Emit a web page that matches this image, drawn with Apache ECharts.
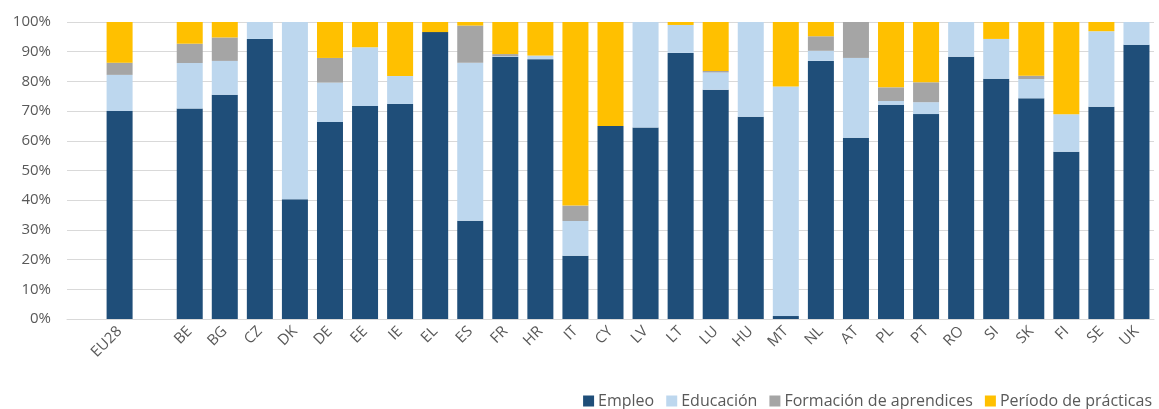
<!DOCTYPE html>
<html><head><meta charset="utf-8">
<script src="https://cdn.jsdelivr.net/npm/echarts@6/dist/echarts.min.js"></script>
<style>html,body{margin:0;padding:0;background:#fff}#c{width:1159px;height:409px}</style>
</head><body><div id="c"></div>
<script>
var categories = ['', 'EU28', ' ', 'BE','BG','CZ','DK','DE','EE','IE','EL','ES','FR','HR','IT','CY','LV','LT','LU','HU','MT','NL','AT','PL','PT','RO','SI','SK','FI','SE','UK'];
var empleo =     [null, 70.0, null, 70.9, 75.5, 94.3, 40.3, 66.3, 71.7, 72.4, 96.6, 33.1, 88.3, 87.5, 21.3, 65.0, 64.5, 89.6, 77.2, 68.1, 1.0, 86.9, 61.0, 72.1, 69.0, 88.3, 80.9, 74.3, 56.3, 71.5, 92.3];
var educacion =  [null, 12.2, null, 15.3, 11.4, 5.7, 59.7, 13.3, 19.8, 9.4, 0, 53.2, 0.2, 1.2, 11.7, 0, 35.5, 9.4, 5.8, 31.9, 77.3, 3.4, 26.9, 1.3, 4.0, 11.7, 13.4, 6.5, 12.6, 25.4, 7.7];
var formacion =  [null, 4.1, null, 6.5, 7.9, 0, 0, 8.3, 0, 0, 0, 12.5, 0.7, 0, 5.2, 0, 0, 0, 0.5, 0, 0, 4.9, 12.1, 4.6, 6.7, 0, 0, 1.1, 0, 0, 0];
var practicas =  [null, 13.7, null, 7.3, 5.2, 0, 0, 12.1, 8.5, 18.2, 3.4, 1.2, 10.8, 11.3, 61.8, 35.0, 0, 1.0, 16.5, 0, 21.7, 4.8, 0, 22.0, 20.3, 0, 5.7, 18.1, 31.1, 3.1, 0];
var yTicks = [0,10,20,30,40,50,60,70,80,90,100];

var font = 'Open Sans';
var txt = '#595959';
function s(name, data, color){
  return {name:name, type:'bar', stack:'t', data:data, barWidth:26,
    itemStyle:{color:color}, emphasis:{disabled:true}};
}
var chart = echarts.init(document.getElementById('c'));
chart.setOption({
  animation:false,
  textStyle:{fontFamily:font},
  grid:{left:67, right:5, top:22, bottom:90},
  legend:{top:388, right:2, itemWidth:11, itemHeight:11, itemGap:12, icon:'rect',
    textStyle:{color:txt, fontSize:16, fontFamily:font, padding:[0,0,0,-1]},
    data:['Empleo','Educación','Formación de aprendices','Período de prácticas']},
  xAxis:{type:'category', data:categories,
    axisLine:{lineStyle:{color:'#D9D9D9', width:1}}, axisTick:{show:false},
    axisLabel:{interval:0, rotate:45, color:txt, fontSize:15, fontFamily:font, margin:10}},
  yAxis:{type:'value', min:0, max:100, interval:10,
    axisLabel:{formatter:'{value}%', color:txt, fontSize:15, fontFamily:font, margin:16},
    splitLine:{lineStyle:{color:'#D9D9D9', width:1}}, axisLine:{show:false}, axisTick:{show:false}},
  series:[
    s('Empleo', empleo, '#1F4E79'),
    s('Educación', educacion, '#BDD7EE'),
    s('Formación de aprendices', formacion, '#A5A5A5'),
    s('Período de prácticas', practicas, '#FFC000')
  ]
});
</script></body></html>
